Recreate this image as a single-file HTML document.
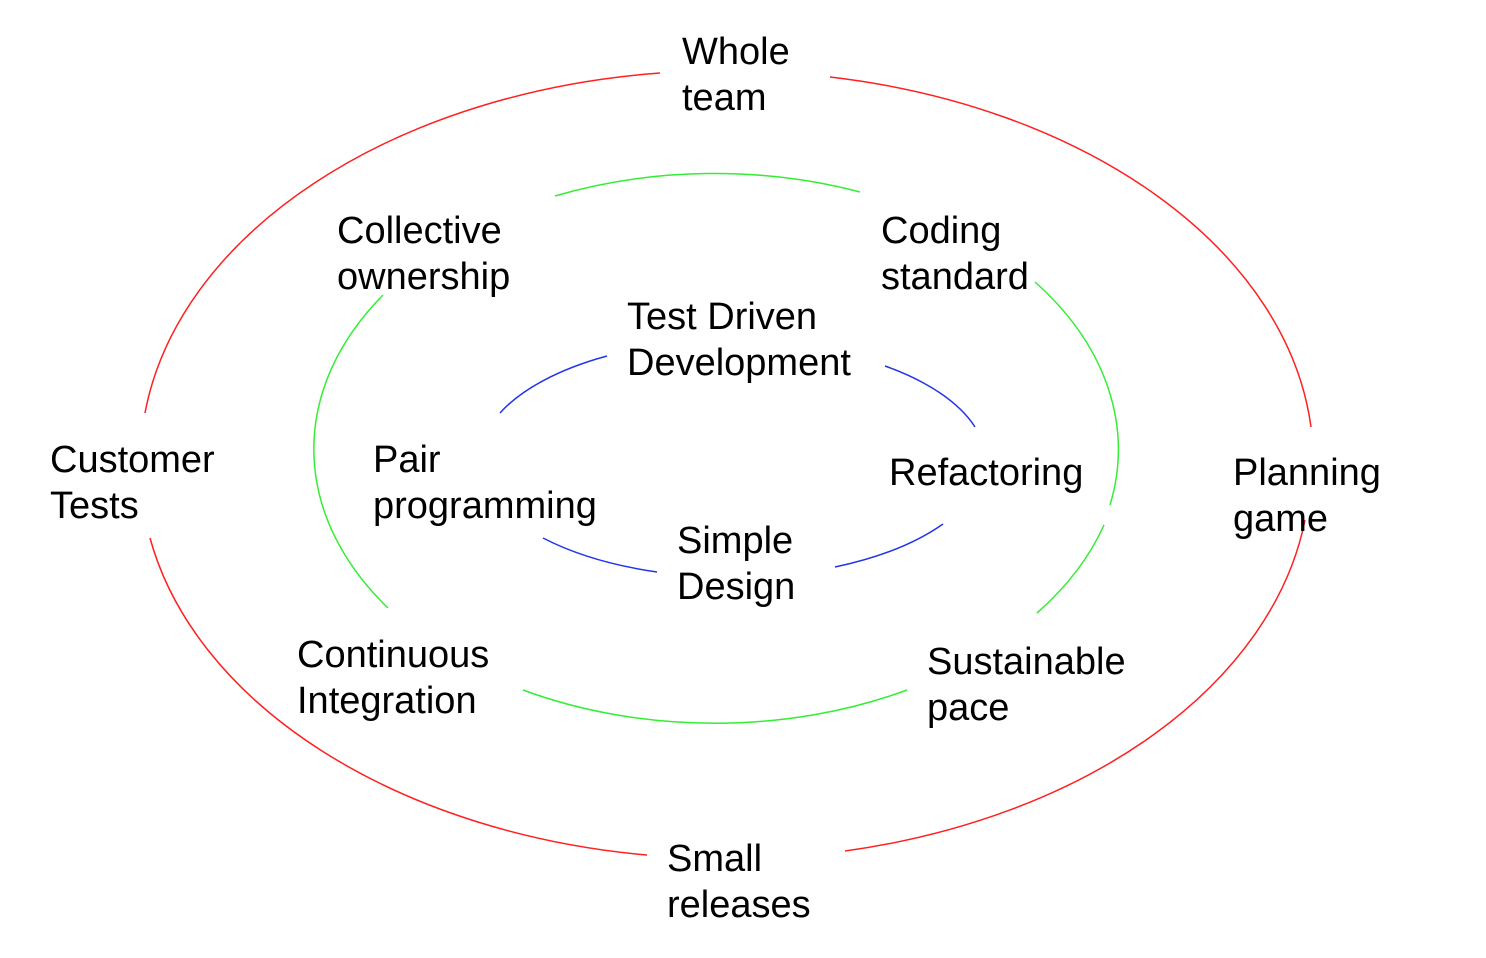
<!DOCTYPE html>
<html><head><style>html,body{margin:0;padding:0;background:#fff}svg{display:block}text{font-family:"Liberation Sans",Arial,sans-serif;font-size:38px;fill:#000}</style></head>
<body>
<svg width="1486" height="958" viewBox="0 0 1486 958" xmlns="http://www.w3.org/2000/svg">
<g fill="none" stroke-width="1.5">
<g stroke="#ff2020">
<path d="M660,73 A583,391 0 0 0 145,413"/>
<path d="M150,538 A583,391 0 0 0 647,855"/>
<path d="M845,851 A583,391 0 0 0 1305,520"/>
<path d="M1311,427 A583,391 0 0 0 830,77"/>
</g>
<g stroke="#33ee33">
<path d="M383,295 A403,275 0 0 0 388,608"/>
<path d="M523,690 A403,275 0 0 0 907,690"/>
<path d="M1037,613 A403,275 0 0 0 1104,525"/>
<path d="M1110,505 A403,275 0 0 0 1035,282"/>
<path d="M860,192 A403,275 0 0 0 555,196"/>
</g>
<g stroke="#2233ee">
<path d="M607,356 A255,120 0 0 0 500,413"/>
<path d="M543,538 A255,120 0 0 0 657,572"/>
<path d="M835,567 A255,120 0 0 0 943,524"/>
<path d="M975,427 A255,120 0 0 0 885,366"/>
</g>
</g>
<text x="682" y="64">Whole</text><text x="682" y="110">team</text>
<text x="337" y="243">Collective</text><text x="337" y="289">ownership</text>
<text x="881" y="243">Coding</text><text x="881" y="289">standard</text>
<text x="627" y="329">Test Driven</text><text x="627" y="375">Development</text>
<text x="50" y="472">Customer</text><text x="50" y="518">Tests</text>
<text x="373" y="472">Pair</text><text x="373" y="518">programming</text>
<text x="889" y="485">Refactoring</text>
<text x="1233" y="485">Planning</text><text x="1233" y="531">game</text>
<text x="677" y="553">Simple</text><text x="677" y="599">Design</text>
<text x="297" y="667">Continuous</text><text x="297" y="713">Integration</text>
<text x="927" y="674">Sustainable</text><text x="927" y="720">pace</text>
<text x="667" y="871">Small</text><text x="667" y="917">releases</text>
</svg>
</body></html>
